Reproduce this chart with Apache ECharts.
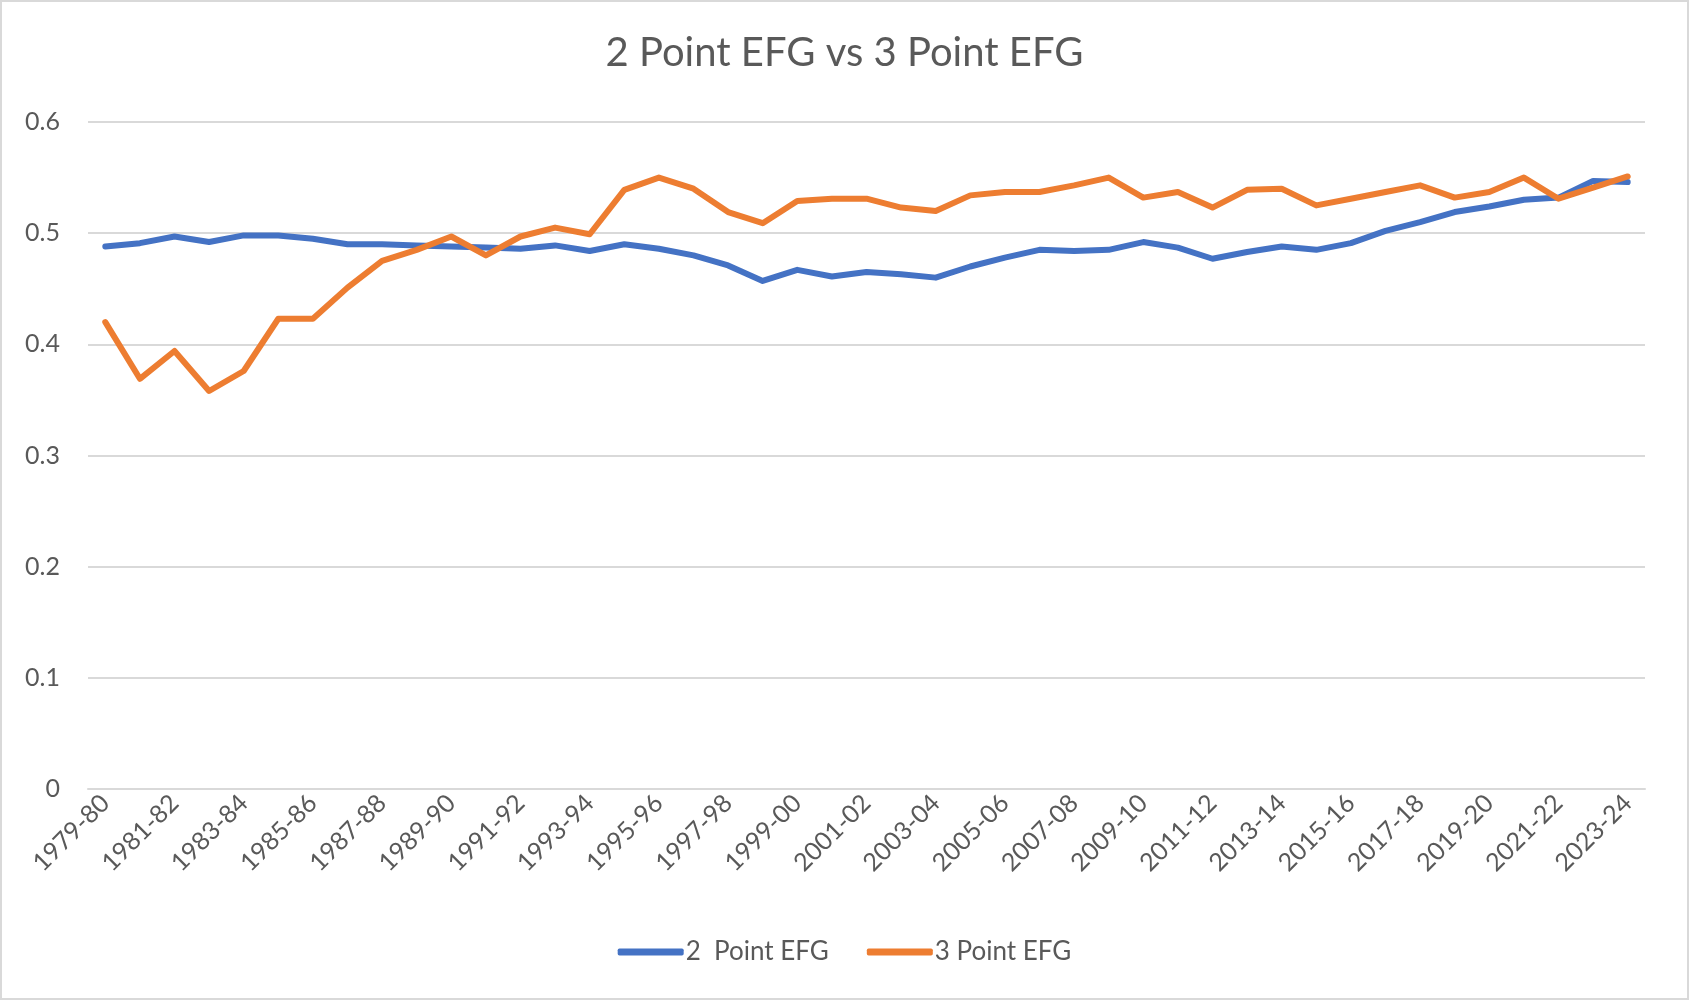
<!DOCTYPE html>
<html>
<head>
<meta charset="utf-8">
<script src="https://cdn.jsdelivr.net/npm/echarts@6/dist/echarts.min.js"></script>
<style>
html,body{margin:0;padding:0;background:#fff;}
#c{width:1689px;height:1000px;}
</style>
</head>
<body>
<div id="c"></div>
<script>
const seasons = ["1979-80","1980-81","1981-82","1982-83","1983-84","1984-85","1985-86","1986-87","1987-88","1988-89","1989-90","1990-91","1991-92","1992-93","1993-94","1994-95","1995-96","1996-97","1997-98","1998-99","1999-00","2000-01","2001-02","2002-03","2003-04","2004-05","2005-06","2006-07","2007-08","2008-09","2009-10","2010-11","2011-12","2012-13","2013-14","2014-15","2015-16","2016-17","2017-18","2018-19","2019-20","2020-21","2021-22","2022-23","2023-24"];
const twoPointEFG = [0.488,0.491,0.497,0.492,0.498,0.498,0.495,0.490,0.490,0.489,0.488,0.487,0.486,0.489,0.484,0.490,0.486,0.480,0.471,0.457,0.467,0.461,0.465,0.463,0.460,0.470,0.478,0.485,0.484,0.485,0.492,0.487,0.477,0.483,0.488,0.485,0.491,0.502,0.510,0.519,0.524,0.530,0.532,0.547,0.546];
const threePointEFG = [0.420,0.369,0.394,0.358,0.376,0.423,0.423,0.451,0.475,0.485,0.497,0.480,0.497,0.505,0.499,0.539,0.550,0.540,0.519,0.509,0.529,0.531,0.531,0.523,0.520,0.534,0.537,0.537,0.543,0.550,0.532,0.537,0.523,0.539,0.540,0.525,0.531,0.537,0.543,0.532,0.537,0.550,0.531,0.541,0.551];
const yTicks = {min:0, max:0.6, interval:0.1};

const FONT = 'Lato';
const chart = echarts.init(document.getElementById('c'));
chart.setOption({
  backgroundColor:'#fff',
  animation:false,
  title:{
    text:'2 Point EFG vs 3 Point EFG',
    left:'center', top:28,
    textStyle:{fontFamily:FONT, fontSize:40, fontWeight:'normal', color:'#595959'}
  },
  legend:{
    bottom:30, left:'center',
    itemWidth:66, itemHeight:7, itemGap:38,
    icon:'roundRect',
    textStyle:{fontFamily:FONT, fontSize:26, color:'#595959', padding:[0,0,0,-3]},
    data:['2  Point EFG','3 Point EFG']
  },
  grid:{left:88, right:44, top:122, bottom:211, containLabel:false},
  xAxis:{
    type:'category',
    data:seasons,
    boundaryGap:true,
    axisLine:{show:true, lineStyle:{color:'#D9D9D9', width:2}},
    axisTick:{show:false},
    axisLabel:{interval:1, rotate:45, fontFamily:FONT, fontSize:25, color:'#595959', margin:10}
  },
  yAxis:{
    type:'value',
    min:yTicks.min, max:yTicks.max, interval:yTicks.interval,
    axisLine:{show:false}, axisTick:{show:false},
    axisLabel:{fontFamily:FONT, fontSize:25, color:'#595959', margin:28},
    splitLine:{lineStyle:{color:'#D9D9D9', width:2}}
  },
  series:[
    {name:'2  Point EFG', type:'line', data:twoPointEFG, showSymbol:false, symbol:'none',
     lineStyle:{color:'#4472C4', width:6, cap:'round', join:'round'}, itemStyle:{color:'#4472C4'}},
    {name:'3 Point EFG', type:'line', data:threePointEFG, showSymbol:false, symbol:'none',
     lineStyle:{color:'#ED7D31', width:6, cap:'round', join:'round'}, itemStyle:{color:'#ED7D31'}}
  ],
  graphic:[{type:'rect', shape:{x:1, y:1, width:1687, height:998}, style:{fill:'none', stroke:'#D9D9D9', lineWidth:2}, silent:true}]
});
</script>
</body>
</html>
